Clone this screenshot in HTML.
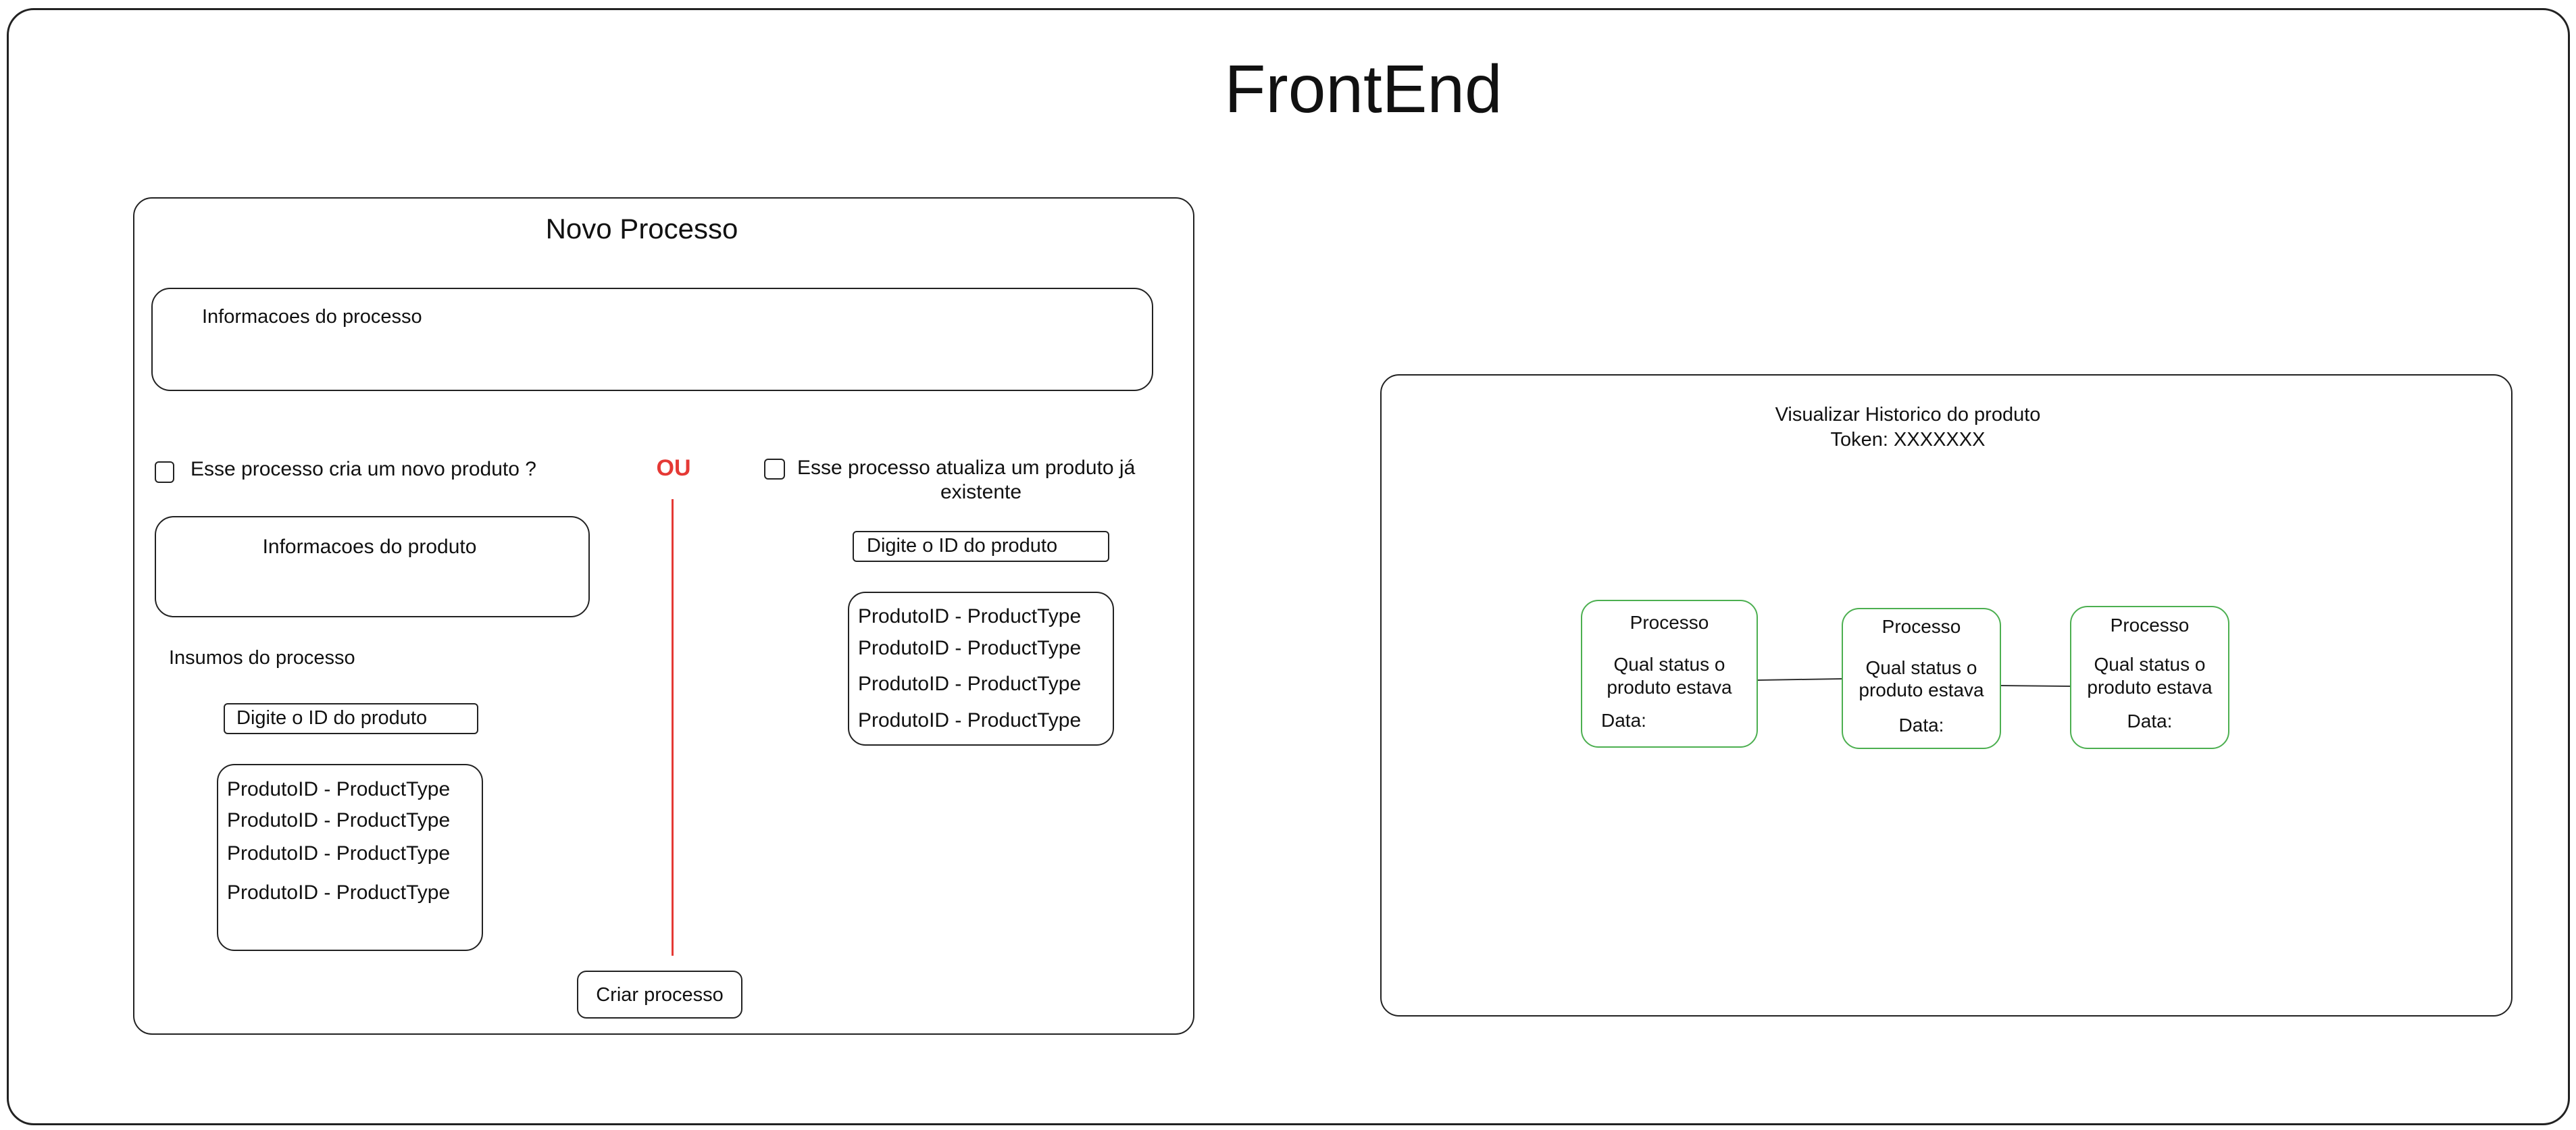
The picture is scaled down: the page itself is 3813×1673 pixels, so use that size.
<!DOCTYPE html>
<html><head><meta charset="utf-8"><style>
body{margin:0;width:3813px;height:1673px;background:#fff;position:relative;overflow:hidden;font-family:"Liberation Sans",sans-serif;color:#111}
.b{position:absolute;border:2px solid #222;box-sizing:border-box;background:#fff}
.t{position:absolute;white-space:nowrap;line-height:1}
.g{position:absolute;border:2px solid #4caf50;border-radius:26px;box-sizing:border-box}
.c{text-align:center}
</style></head><body>
<div class="b" style="left:10px;top:12px;width:3794px;height:1654px;border-radius:40px;border-width:3px"></div>
<div class="t" style="left:1718px;top:82px;width:600px;text-align:center;font-size:100px">FrontEnd</div>

<div class="b" style="left:197px;top:292px;width:1571px;height:1240px;border-radius:28px"></div>
<div class="t" style="left:700px;top:318px;width:500px;text-align:center;font-size:42px">Novo Processo</div>
<div class="b" style="left:224px;top:426px;width:1483px;height:153px;border-radius:28px"></div>
<div class="t" style="left:299px;top:455px;font-size:29px">Informacoes do processo</div>

<div class="b" style="left:229px;top:683px;width:29px;height:32px;border-radius:6px"></div>
<div class="t" style="left:282px;top:680px;font-size:30px">Esse processo cria um novo produto ?</div>
<div class="t" style="left:960px;top:676px;width:74px;text-align:center;font-size:34px;font-weight:bold;color:#e53935">OU</div>
<div style="position:absolute;left:994px;top:739px;width:3px;height:676px;background:#e53935"></div>
<div class="b" style="left:1131px;top:679px;width:31px;height:31px;border-radius:6px"></div>
<div class="t" style="left:1180px;top:678px;font-size:30px">Esse processo atualiza um produto já</div>
<div class="t" style="left:1302px;top:714px;width:300px;text-align:center;font-size:30px">existente</div>

<div class="b" style="left:229px;top:764px;width:644px;height:150px;border-radius:28px"></div>
<div class="t" style="left:297px;top:795px;width:500px;text-align:center;font-size:30px">Informacoes do produto</div>
<div class="t" style="left:250px;top:960px;font-size:29px">Insumos do processo</div>
<div class="b" style="left:331px;top:1041px;width:377px;height:46px;border-radius:6px"></div>
<div class="t" style="left:350px;top:1049px;font-size:29px">Digite o ID do produto</div>
<div class="b" style="left:321px;top:1131px;width:394px;height:277px;border-radius:26px"></div>
<div class="t" style="left:336px;top:1154px;font-size:30px">ProdutoID - ProductType</div>
<div class="t" style="left:336px;top:1200px;font-size:30px">ProdutoID - ProductType</div>
<div class="t" style="left:336px;top:1249px;font-size:30px">ProdutoID - ProductType</div>
<div class="t" style="left:336px;top:1307px;font-size:30px">ProdutoID - ProductType</div>

<div class="b" style="left:1262px;top:786px;width:380px;height:46px;border-radius:6px"></div>
<div class="t" style="left:1283px;top:794px;font-size:29px">Digite o ID do produto</div>
<div class="b" style="left:1255px;top:876px;width:394px;height:228px;border-radius:26px"></div>
<div class="t" style="left:1270px;top:898px;font-size:30px">ProdutoID - ProductType</div>
<div class="t" style="left:1270px;top:945px;font-size:30px">ProdutoID - ProductType</div>
<div class="t" style="left:1270px;top:998px;font-size:30px">ProdutoID - ProductType</div>
<div class="t" style="left:1270px;top:1052px;font-size:30px">ProdutoID - ProductType</div>

<div class="b" style="left:854px;top:1437px;width:245px;height:71px;border-radius:14px"></div>
<div class="t" style="left:854px;top:1459px;width:245px;text-align:center;font-size:29px">Criar processo</div>

<div class="b" style="left:2043px;top:554px;width:1676px;height:951px;border-radius:28px"></div>
<div class="t" style="left:2524px;top:600px;width:600px;text-align:center;font-size:29px">Visualizar Historico do produto</div>
<div class="t" style="left:2524px;top:637px;width:600px;text-align:center;font-size:29px">Token: XXXXXXX</div>

<svg style="position:absolute;left:0;top:0" width="3813" height="1673">
<line x1="2602" y1="1007" x2="2726" y2="1005" stroke="#333" stroke-width="2"/>
<line x1="2962" y1="1015" x2="3064" y2="1016" stroke="#333" stroke-width="2"/>
</svg>
<div class="g" style="left:2340px;top:888px;width:262px;height:219px"></div>
<div class="t c" style="left:2340px;top:908px;width:262px;font-size:28px">Processo</div>
<div class="t c" style="left:2340px;top:970px;width:262px;font-size:28px">Qual status o</div>
<div class="t c" style="left:2340px;top:1004px;width:262px;font-size:28px">produto estava</div>
<div class="t" style="left:2370px;top:1053px;font-size:28px">Data:</div>

<div class="g" style="left:2726px;top:900px;width:236px;height:209px"></div>
<div class="t c" style="left:2726px;top:914px;width:236px;font-size:28px">Processo</div>
<div class="t c" style="left:2726px;top:975px;width:236px;font-size:28px">Qual status o</div>
<div class="t c" style="left:2726px;top:1008px;width:236px;font-size:28px">produto estava</div>
<div class="t c" style="left:2726px;top:1060px;width:236px;font-size:28px">Data:</div>

<div class="g" style="left:3064px;top:897px;width:236px;height:212px"></div>
<div class="t c" style="left:3064px;top:912px;width:236px;font-size:28px">Processo</div>
<div class="t c" style="left:3064px;top:970px;width:236px;font-size:28px">Qual status o</div>
<div class="t c" style="left:3064px;top:1004px;width:236px;font-size:28px">produto estava</div>
<div class="t c" style="left:3064px;top:1054px;width:236px;font-size:28px">Data:</div>
</body></html>
